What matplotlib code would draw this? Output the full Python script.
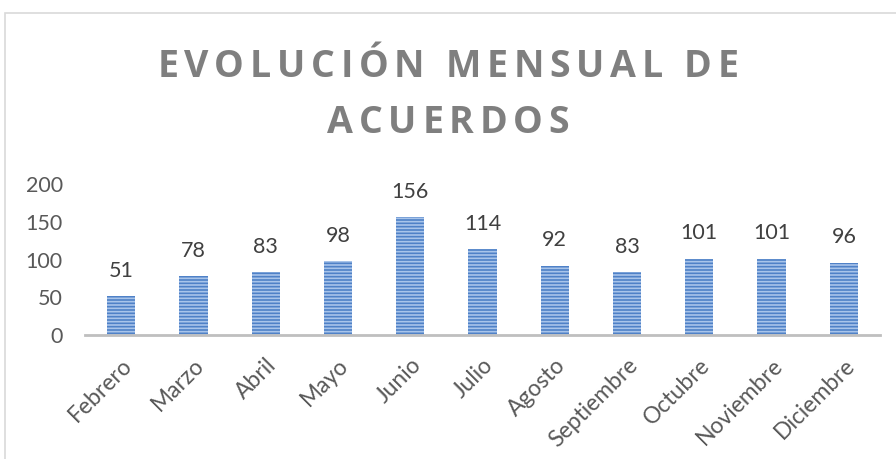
import matplotlib.pyplot as plt
import matplotlib as mpl
from matplotlib.patches import Rectangle
from matplotlib.font_manager import FontProperties

months = ['Febrero', 'Marzo', 'Abril', 'Mayo', 'Junio', 'Julio', 'Agosto',
          'Septiembre', 'Octubre', 'Noviembre', 'Diciembre']
acuerdos = [51, 78, 83, 98, 156, 114, 92, 83, 101, 101, 96]
y_ticks = [0, 50, 100, 150, 200]
title_lines = ['EVOLUCIÓN MENSUAL DE', 'ACUERDOS']

mpl.rcParams['font.family'] = ['Lato', 'DejaVu Sans']
mpl.rcParams['hatch.linewidth'] = 1.2


def spaced_text(fig, text, y_px, spacing, prop, color):
    """Draw text centred on the figure with extra letter spacing (pixels)."""
    renderer = fig.canvas.get_renderer()
    widths = [renderer.get_text_width_height_descent(c, prop, ismath=False)[0]
              for c in text]
    total = sum(widths) + spacing * (len(text) - 1)
    W, H = fig.bbox.width, fig.bbox.height
    x = (W - total) / 2
    for c, w in zip(text, widths):
        fig.text(x / W, 1 - y_px / H, c, ha='left', va='center',
                 fontproperties=prop, color=color)
        x += w + spacing


fig = plt.figure(figsize=(8.96, 4.59), dpi=100)
# chart-area border
fig.patches.append(Rectangle((5 / 896, -0.01), 1.0, 1 - 13 / 459 + 0.01,
                             transform=fig.transFigure, fill=False,
                             edgecolor='#d9d9d9', linewidth=1.2))

ax = fig.add_axes([85 / 896, 1 - 335 / 459, 795 / 896, (335 - 184) / 459])
ax.bar(range(len(months)), acuerdos, width=0.39, color='#4f81c7',
       edgecolor='#a8c4ea', linewidth=0, hatch='-----')
for x, v in enumerate(acuerdos):
    ax.annotate(str(v), (x, v), xytext=(0, 11), textcoords='offset points',
                ha='center', va='bottom', fontsize=15.5, color='#404040')

ax.set_xlim(-0.5, len(months) - 0.5)
ax.set_ylim(0, 200)
ax.set_yticks(y_ticks)
ax.set_xticks(range(len(months)))
ax.set_xticklabels(months, rotation=45, ha='right', rotation_mode='anchor')
ax.tick_params(axis='both', length=0, labelcolor='#595959')
ax.tick_params(axis='y', pad=16, labelsize=15.5)
ax.tick_params(axis='x', pad=14, labelsize=16.5)
for s in ['top', 'right', 'left']:
    ax.spines[s].set_visible(False)
ax.spines['bottom'].set_color('#bfbfbf')
ax.spines['bottom'].set_linewidth(2)

title_prop = FontProperties(family=['Open Sans', 'DejaVu Sans'],
                            weight='bold', size=27)
spaced_text(fig, title_lines[0], 67, 5.7, title_prop, '#7f7f7f')
spaced_text(fig, title_lines[1], 123, 5.7, title_prop, '#7f7f7f')

plt.savefig('out.png', dpi=100)
